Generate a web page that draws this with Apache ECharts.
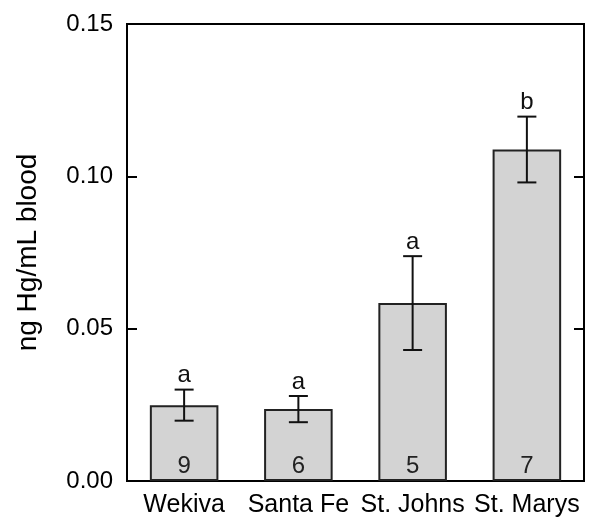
<!DOCTYPE html>
<html>
<head>
<meta charset="utf-8">
<script src="https://cdn.jsdelivr.net/npm/echarts@6/dist/echarts.min.js"></script>
<style>
html,body{margin:0;padding:0;background:#fff;}
#chart{width:601px;height:532px;}
</style>
</head>
<body>
<div id="chart"></div>
<script>
const categories = ['Wekiva', 'Santa Fe', 'St. Johns', 'St. Marys'];
const means = [0.0249, 0.0236, 0.0584, 0.1088];
const errors = [0.0051, 0.0043, 0.0154, 0.0108];
const letters = ['a', 'a', 'a', 'b'];
const sampleSizes = [9, 6, 5, 7];
const yAxisTitle = 'ng Hg/mL blood';
const yMin = 0, yMax = 0.15, yStep = 0.05;

const FONT = 'Liberation Sans, Arial, sans-serif';
const chart = echarts.init(document.getElementById('chart'), null, {renderer: 'canvas'});

const errData = categories.map((c, i) => [i, means[i] - errors[i], means[i] + errors[i], letters[i]]);

const option = {
  animation: false,
  backgroundColor: '#fff',
  grid: {left: 127, right: 17, top: 24, bottom: 51, show: true, borderColor: '#000', borderWidth: 2, backgroundColor: 'transparent'},
  xAxis: {
    type: 'category',
    data: categories,
    axisLine: {show: true, lineStyle: {color: '#000', width: 2}},
    axisTick: {show: false},
    axisLabel: {color: '#000', fontSize: 25, fontFamily: FONT, margin: 12, interval: 0},
    splitLine: {show: false}
  },
  yAxis: [{
    type: 'value',
    min: yMin, max: yMax, interval: yStep,
    name: yAxisTitle,
    nameLocation: 'middle',
    nameGap: 85,
    nameTextStyle: {color: '#000', fontSize: 28, fontFamily: FONT},
    axisLine: {show: true, lineStyle: {color: '#000', width: 2}},
    axisTick: {show: true, inside: true, length: 10, lineStyle: {color: '#000', width: 2}},
    axisLabel: {color: '#000', fontSize: 24, fontFamily: FONT, margin: 14, formatter: v => v.toFixed(2)},
    splitLine: {show: false}
  }, {
    type: 'value',
    position: 'right',
    min: yMin, max: yMax, interval: yStep,
    axisLine: {show: true, lineStyle: {color: '#000', width: 2}},
    axisTick: {show: true, inside: true, length: 10, lineStyle: {color: '#000', width: 2}},
    axisLabel: {show: false},
    splitLine: {show: false}
  }],
  series: [{
    type: 'bar',
    data: means,
    barWidth: '60%',
    itemStyle: {color: '#d3d3d3', borderColor: '#222', borderWidth: 2},
    label: {
      show: true, position: 'insideBottom', distance: 3,
      color: '#222', fontSize: 24, fontFamily: FONT,
      formatter: p => String(sampleSizes[p.dataIndex])
    },
    z: 2
  }, {
    type: 'custom',
    data: errData,
    z: 5,
    renderItem: function (params, api) {
      const x = api.value(0);
      const lo = api.coord([x, api.value(1)]);
      const hi = api.coord([x, api.value(2)]);
      const half = 9.5;
      const style = {stroke: '#111', lineWidth: 2};
      return {
        type: 'group',
        children: [
          {type: 'line', shape: {x1: lo[0], y1: lo[1], x2: hi[0], y2: hi[1]}, style: style},
          {type: 'line', shape: {x1: lo[0] - half, y1: lo[1], x2: lo[0] + half, y2: lo[1]}, style: style},
          {type: 'line', shape: {x1: hi[0] - half, y1: hi[1], x2: hi[0] + half, y2: hi[1]}, style: style},
          {type: 'text', x: hi[0], y: hi[1] - 2, style: {text: letters[params.dataIndex], fill: '#111', fontSize: 24, fontFamily: FONT, align: 'center', verticalAlign: 'bottom'}}
        ]
      };
    }
  }]
};
chart.setOption(option);
</script>
</body>
</html>
